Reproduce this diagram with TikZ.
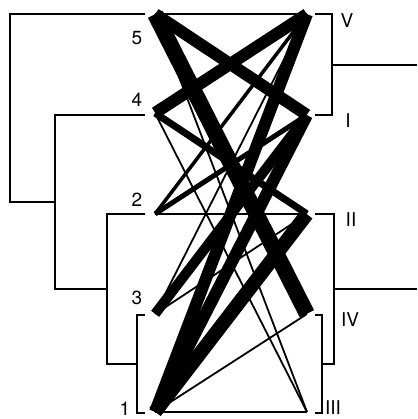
\documentclass[tikz,border=0pt]{standalone}
\usepackage{fontspec}
\setmainfont{TeX Gyre Heros}
\begin{document}
\begin{tikzpicture}[x=1pt,y=-1pt,%
  % common options for the leaf points:
  leaf/.style = {inner sep=0, minimum size=0},
  % common options for the tree lines:
  tree/.style = {line width=1.7pt},
  % common options for the labels:
  lab/.style = {inner sep=0, font=\fontsize{19}{21}\selectfont},
  % common options for the links:
  link/.style = {line cap=butt}]
\useasboundingbox (0,0) rectangle (417,419);
% left leaves
\node[leaf] (L5) at (155,14) {};
\node[leaf] (L4) at (155,113) {};
\node[leaf] (L2) at (155,214) {};
\node[leaf] (L3) at (155,314) {};
\node[leaf] (L1) at (155,412) {};
% right leaves
\node[leaf] (RV) at (307,14) {};
\node[leaf] (RI) at (307,115) {};
\node[leaf] (RII) at (307,214) {};
\node[leaf] (RIV) at (307,314) {};
\node[leaf] (RIII) at (307,412) {};
% labels
\node[lab] (N5) at (137,38) {5};
\node[lab] (N4) at (137,100) {4};
\node[lab] (N2) at (137,200) {2};
\node[lab] (N3) at (137,298) {3};
\node[lab] (N1) at (125,409) {1};
\node[lab] (NV) at (347,21) {V};
\node[lab] (NI) at (348,121) {I};
\node[lab] (NII) at (351,220) {II};
\node[lab] (NIV) at (350,320) {IV};
\node[lab] (NIII) at (333,408) {III};
% left tree
\coordinate (T5) at (145,14);
\coordinate (T4) at (145,115);
\coordinate (T2) at (145,214);
\coordinate (T3) at (145,315);
\coordinate (T1) at (145,413);
\coordinate (a13) at (137,364);
\coordinate (a213) at (107,289);
\coordinate (a4213) at (55,202);
\coordinate (aroot) at (10,108);
\draw[tree] (T3) -| (a13) |- (T1);
\draw[tree] (a13) -| (a213) |- (T2);
\draw[tree] (a213) -| (a4213) |- (T4);
\draw[tree] (a4213) -| (aroot) |- (T5);
% right tree
\coordinate (SV) at (315,14);
\coordinate (SI) at (315,115);
\coordinate (SII) at (315,214);
\coordinate (SIV) at (315,315);
\coordinate (SIII) at (315,413);
\coordinate (bVI) at (332,65);
\coordinate (bIVIII) at (322,364);
\coordinate (bII) at (334,289);
\coordinate (eVI) at (417,65);
\coordinate (eII) at (417,289);
\draw[tree] (SV) -| (bVI) |- (SI);
\draw[tree] (bVI) -- (eVI);
\draw[tree] (SIV) -| (bIVIII) |- (SIII);
\draw[tree] (bIVIII) -| (bII) |- (SII);
\draw[tree] (bII) -- (eII);
% links
\draw[link, line width=1.8pt] (L5) to (RV);
\draw[link, line width=12pt] (L5) to (RI);
\draw[link, line width=16pt] (L5) to (RIV);
\draw[link, line width=1.8pt] (L5) to (RIII);
\draw[link, line width=12pt] (L4) to (RV);
\draw[link, line width=7pt] (L4) to (RII);
\draw[link, line width=1.8pt] (L4) to (RIII);
\draw[link, line width=3.5pt] (L2) to (RV);
\draw[link, line width=5pt] (L2) to (RI);
\draw[link, line width=1.8pt] (L2) to (RII);
\draw[link, line width=1.8pt] (L3) to (RV);
\draw[link, line width=10pt] (L3) to (RI);
\draw[link, line width=1.8pt] (L3) to (RII);
\draw[link, line width=12pt] (L1) to (RV);
\draw[link, line width=12pt] (L1) to (RI);
\draw[link, line width=14pt] (L1) to (RII);
\draw[link, line width=1.8pt] (L1) to (RIV);
\draw[link, line width=1.8pt] (L1) to (RIII);
\end{tikzpicture}
\end{document}
